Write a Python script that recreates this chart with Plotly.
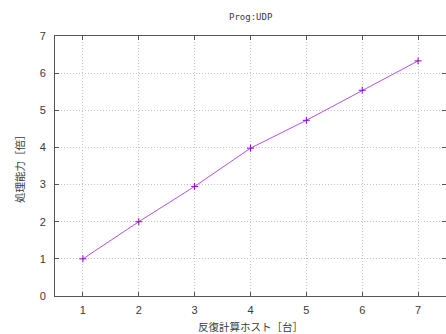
import plotly.graph_objects as go

# Speed-up of the UDP program versus number of compute hosts
hosts = [1, 2, 3, 4, 5, 6, 7]
speedup = [1.0, 2.0, 2.95, 3.98, 4.73, 5.54, 6.33]

x_ticks = [1, 2, 3, 4, 5, 6, 7]
y_ticks = [0, 1, 2, 3, 4, 5, 6, 7]

title_text = "Prog:UDP"
x_title = "反復計算ホスト［台］"
y_title = "処理能力［倍］"

line_color = "#b650ea"
marker_color = "#9400D3"
axis_color = "#555555"
grid_color = "#c4c4c4"
text_color = "#3a3a3a"
cjk_font = "Noto Sans CJK JP"
tick_font = "Liberation Sans"

fig = go.Figure(
    go.Scatter(
        x=hosts,
        y=speedup,
        mode="lines+markers",
        line=dict(color=line_color, width=1),
        marker=dict(symbol="cross-thin", size=5, line=dict(color=marker_color, width=1)),
        showlegend=False,
        hoverinfo="skip",
    )
)

common_axis = dict(
    showline=True,
    linecolor=axis_color,
    linewidth=1,
    mirror="ticks",
    ticks="inside",
    ticklen=4,
    tickcolor=axis_color,
    showgrid=True,
    gridcolor=grid_color,
    griddash="1px,2px",
    gridwidth=1,
    zeroline=False,
    tickfont=dict(family=tick_font, size=11, color=text_color),
)

fig.update_xaxes(
    range=[0.5, 7.5],
    tickvals=x_ticks,
    ticktext=[str(v) for v in x_ticks],
    ticklabelstandoff=4,
    **common_axis,
)
fig.update_yaxes(
    range=[0, 7],
    tickvals=y_ticks,
    ticktext=[str(v) for v in y_ticks],
    ticklabelstandoff=6,
    **common_axis,
)

fig.update_layout(
    width=446,
    height=334,
    margin=dict(l=55, r=0, t=36, b=38),
    paper_bgcolor="white",
    plot_bgcolor="white",
    annotations=[
        dict(text=title_text, xref="paper", yref="paper", x=0.5, y=1,
             yshift=19, yanchor="middle", xanchor="center", showarrow=False,
             font=dict(family="DejaVu Sans Mono", size=9, color=text_color)),
        dict(text=x_title, xref="paper", yref="paper", x=0.5, y=0,
             yshift=-30, yanchor="middle", xanchor="center", showarrow=False,
             font=dict(family=cjk_font, size=10.5, color=text_color)),
        dict(text=y_title, xref="paper", yref="paper", x=0, y=0.5,
             xshift=-36, yanchor="middle", xanchor="center", showarrow=False,
             textangle=-90,
             font=dict(family=cjk_font, size=10.5, color=text_color)),
    ],
)

fig.write_html("out.html")
